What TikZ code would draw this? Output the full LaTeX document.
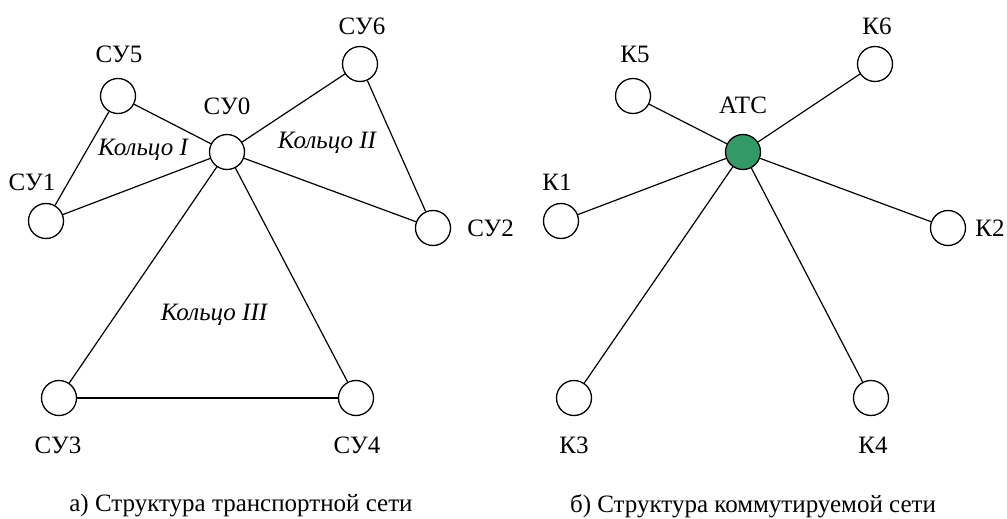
\documentclass[tikz,border=0pt]{standalone}
\usepackage{fontspec}
\setmainfont{Liberation Serif}
\usepackage{tikz}
\usetikzlibrary{positioning}
\definecolor{hubgreen}{RGB}{51,153,102}

\begin{document}
\begin{tikzpicture}[
      x=1pt, y=-1pt,
      font=\fontsize{25}{30}\selectfont
    ]

    \tikzstyle{station} = [circle, draw=black, line width=1.3pt, fill=white, minimum size=35pt, inner sep=0pt]
    \tikzstyle{hub} = [station, fill=hubgreen]
    \tikzstyle{tag} = [inner sep=0pt]
    \tikzstyle{ringtag} = [inner sep=0pt, font=\fontsize{25}{30}\selectfont\itshape]
    \tikzstyle{link} = [line width=1.2pt]

    \useasboundingbox (0,0) rectangle (1007,519);

    % transport network
    \node [station] (cy0) at (227,152) {};
    \node [station] (cy5) at (118,96) {};
    \node [station] (cy6) at (360,64) {};
    \node [station] (cy1) at (46,221) {};
    \node [station] (cy2) at (433,228) {};
    \node [station] (cy3) at (59,398) {};
    \node [station] (cy4) at (356,398) {};

    \node [tag, above=19pt of cy0] (cy0tag) {СУ0};
    \node [tag, above=15pt of cy5, xshift=1pt] (cy5tag) {СУ5};
    \node [tag, above=11pt of cy6, xshift=2pt] (cy6tag) {СУ6};
    \node [tag, above=12pt of cy1, xshift=-14pt] (cy1tag) {СУ1};
    \node [tag, right=16pt of cy2] (cy2tag) {СУ2};
    \node [tag, below=21pt of cy3, xshift=-1pt] (cy3tag) {СУ3};
    \node [tag, below=21pt of cy4, xshift=1pt] (cy4tag) {СУ4};

    \draw [link] (cy0) -- (cy5);
    \draw [link] (cy0) -- (cy6);
    \draw [link] (cy0) -- (cy1);
    \draw [link] (cy0) -- (cy2);
    \draw [link] (cy0) -- (cy3);
    \draw [link] (cy0) -- (cy4);
    \draw [link] (cy5) -- (cy1);
    \draw [link] (cy6) -- (cy2);
    \draw [link] (cy3) -- (cy4);

    \node [ringtag] (ringOne) at (143,150) {Кольцо I};
    \node [ringtag] (ringTwo) at (327,143) {Кольцо II};
    \node [ringtag] (ringThree) at (214,315) {Кольцо III};

    \node [tag] (capTransport) at (241,506) {а) Структура транспортной сети};

    % switched network
    \node [hub] (atc) at (743,152) {};
    \node [station] (k5) at (633,96) {};
    \node [station] (k6) at (875,64) {};
    \node [station] (k1) at (561,221) {};
    \node [station] (k2) at (948,228) {};
    \node [station] (k3) at (574,398) {};
    \node [station] (k4) at (871,398) {};

    \node [tag, above=20pt of atc] (atctag) {АТС};
    \node [tag, above=15pt of k5, xshift=2pt] (k5tag) {К5};
    \node [tag, above=11pt of k6, xshift=2pt] (k6tag) {К6};
    \node [tag, above=12pt of k1, xshift=-4pt] (k1tag) {К1};
    \node [tag, right=9pt of k2] (k2tag) {К2};
    \node [tag, below=21pt of k3] (k3tag) {К3};
    \node [tag, below=21pt of k4, xshift=2pt] (k4tag) {К4};

    \draw [link] (atc) -- (k5);
    \draw [link] (atc) -- (k6);
    \draw [link] (atc) -- (k1);
    \draw [link] (atc) -- (k2);
    \draw [link] (atc) -- (k3);
    \draw [link] (atc) -- (k4);

    \node [tag] (capSwitched) at (753,506) {б) Структура коммутируемой сети};

\end{tikzpicture}
\end{document}
